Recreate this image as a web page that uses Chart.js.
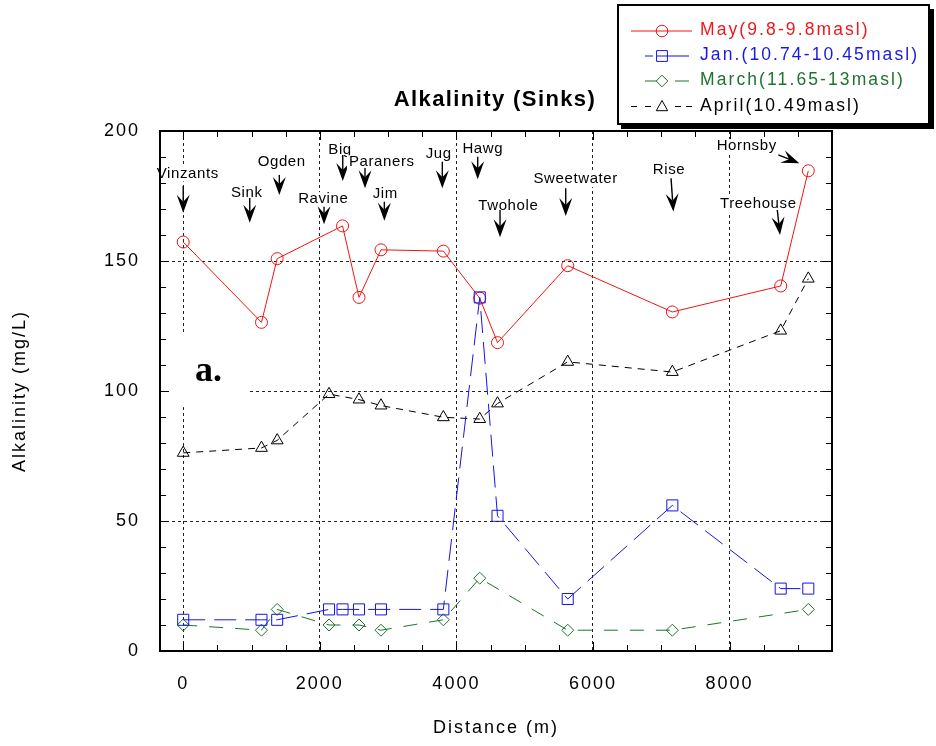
<!DOCTYPE html>
<html><head><meta charset="utf-8">
<script src="https://cdn.jsdelivr.net/npm/chart.js@4.4.1/dist/chart.umd.min.js"></script>
<style>html,body{margin:0;padding:0;background:#fff;}canvas{display:block;}</style>
</head><body>
<canvas id="c" width="936" height="746"></canvas>
<script>
// ---- data ----
const stations = ['Vinzants','Sink','Ogden','Ravine','Big','Paraners','Jim','Jug','Hawg','Twohole','Sweetwater','Rise','Treehouse','Hornsby'];
const distance = [0, 1146, 1376, 2135, 2333, 2574, 2896, 3809, 4342, 4602, 5630, 7162, 8749, 9153];
const mayValues   = [157.3, 126.4, 150.9, null, 163.5, 136.0, 154.3, 153.8, 135.7, 118.6, 148.2, 130.4, 140.4, 184.7];
const janValues   = [12, 12, 12, 16, 16, 16, 16, 16, 136, 52, 20, 56, 24, 24];
const marchValues = [10, 8, 16, 10, null, 10, 8, 12, 28, null, 8, 8, null, 16];
const aprilValues = [76.2, 78.1, 81.0, 98.8, null, 96.7, 94.4, 89.9, 89.2, 95.2, 111.2, 107.3, 123.2, 143.2];
const xTicks = [0, 2000, 4000, 6000, 8000];
const yTicks = [0, 50, 100, 150, 200];
const seriesNames = ['May(9.8-9.8masl)', 'Jan.(10.74-10.45masl)', 'March(11.65-13masl)', 'April(10.49masl)'];
const chartTitle = 'Alkalinity (Sinks)';
const xTitle = 'Distance (m)';
const yTitle = 'Alkalinity (mg/L)';

const RED = 'rgb(240,20,20)', BLUE = 'rgb(20,20,230)', GREEN = 'rgb(30,115,45)', BLACK = '#000';
const FONT = '"Liberation Sans", Arial, Helvetica, sans-serif';

function toXY(vals) {
  const out = [];
  vals.forEach((v, i) => { if (v !== null) out.push({x: distance[i], y: v}); });
  return out;
}

// annotation labels placed in data units (x: m, y: mg/L)
const annotations = [
  {t:'Vinzants',   tx:66,   ty:183.7, ax:0,    ay:178.8, bx:0,    by:168.6},
  {t:'Sink',       tx:930,  ty:176.4, ax:974,  ay:174.2, bx:974,  by:164.7},
  {t:'Ogden',      tx:1442, ty:188.0, ax:1407, ay:183.1, bx:1407, by:175.4},
  {t:'Ravine',     tx:2051, ty:173.8, ax:2062, ay:170.9, bx:2062, by:164.1},
  {t:'Big',        tx:2296, ty:192.7, ax:2336, ay:190.8, bx:2336, by:180.8},
  {t:'Paraners',   tx:2907, ty:188.0, ax:2662, ay:185.8, bx:2662, by:178.0},
  {t:'Jim',        tx:2959, ty:176.0, ax:2945, ay:172.8, bx:2945, by:165.5},
  {t:'Jug',        tx:3741, ty:191.4, ax:3794, ay:188.2, bx:3794, by:178.0},
  {t:'Hawg',       tx:4386, ty:193.1, ax:4312, ay:190.1, bx:4312, by:181.4},
  {t:'Twohole',    tx:4760, ty:171.2, ax:4639, ay:169.6, bx:4639, by:159.1},
  {t:'Sweetwater', tx:5747, ty:181.5, ax:5601, ay:178.0, bx:5601, by:167.3},
  {t:'Rise',       tx:7113, ty:185.0, ax:7143, ay:181.8, bx:7177, by:169.0},
  {t:'Treehouse',  tx:8421, ty:171.9, ax:8699, ay:169.6, bx:8739, by:160.0},
  {t:'Hornsby',    tx:8251, ty:194.2, ax:8714, ay:190.8, bx:9021, by:187.6}
];

function arrow(ctx, x1, y1, x2, y2) {
  const dx = x2 - x1, dy = y2 - y1, L = Math.hypot(dx, dy);
  const ux = dx / L, uy = dy / L, px = -uy, py = ux;
  const hl = 18, hw = 6.5, notch = 7;
  const bx = x2 - ux * hl, by = y2 - uy * hl;
  const nx = x2 - ux * (hl - notch), ny = y2 - uy * (hl - notch);
  ctx.beginPath(); ctx.moveTo(x1, y1); ctx.lineTo(nx, ny);
  ctx.lineWidth = 1.4; ctx.strokeStyle = '#000'; ctx.stroke();
  ctx.beginPath();
  ctx.moveTo(x2, y2);
  ctx.lineTo(bx + px * hw, by + py * hw);
  ctx.lineTo(nx, ny);
  ctx.lineTo(bx - px * hw, by - py * hw);
  ctx.closePath(); ctx.fillStyle = '#000'; ctx.fill();
}

function drawMarker(ctx, style, x, y, r, color) {
  ctx.save(); ctx.strokeStyle = color; ctx.lineWidth = 1; ctx.setLineDash([]);
  ctx.beginPath();
  if (style === 'circle') ctx.arc(x, y, r, 0, Math.PI * 2);
  else if (style === 'rect') ctx.rect(x - r, y - r, 2 * r, 2 * r);
  else if (style === 'diamond') { ctx.moveTo(x, y - r); ctx.lineTo(x + r, y); ctx.lineTo(x, y + r); ctx.lineTo(x - r, y); ctx.closePath(); }
  else if (style === 'triangle') { ctx.moveTo(x, y - r); ctx.lineTo(x + r * 0.95, y + r * 0.7); ctx.lineTo(x - r * 0.95, y + r * 0.7); ctx.closePath(); }
  ctx.stroke(); ctx.restore();
}

const customPlugin = {
  id: 'custom',
  beforeDraw(chart) { chart.ctx.letterSpacing = '2px'; },
  beforeDatasetsDraw(chart) {
    const {ctx, chartArea: a, scales: {x, y}} = chart;
    ctx.save();
    ctx.letterSpacing = '0px';
    // white patch behind "a." label
    ctx.fillStyle = '#fff';
    const bx1 = a.left + 1, bx2 = x.getPixelForValue(935);
    const by1 = y.getPixelForValue(121.5), by2 = y.getPixelForValue(93.8);
    ctx.fillRect(bx1, by1, bx2 - bx1, by2 - by1);
    ctx.fillStyle = '#000';
    ctx.font = 'bold 36px "Liberation Serif", "Times New Roman", serif';
    ctx.textAlign = 'left'; ctx.textBaseline = 'alphabetic';
    ctx.fillText('a.', x.getPixelForValue(171), y.getPixelForValue(103.7));

    // inward tick marks on all four sides
    ctx.strokeStyle = '#000'; ctx.lineWidth = 1; ctx.setLineDash([]);
    ctx.beginPath();
    for (let v = 0; v <= x.max; v += 500) {
      const p = Math.round(x.getPixelForValue(v)) + 0.5;
      if (p <= a.left + 1 || p >= a.right - 1) continue;
      const len = (v % 2000 === 0) ? 9 : 6;
      ctx.moveTo(p, a.bottom); ctx.lineTo(p, a.bottom - len);
      ctx.moveTo(p, a.top); ctx.lineTo(p, a.top + len);
    }
    for (let v = 10; v < y.max; v += 10) {
      const p = Math.round(y.getPixelForValue(v)) + 0.5;
      const len = (v % 50 === 0) ? 9 : 6;
      ctx.moveTo(a.left, p); ctx.lineTo(a.left + len, p);
      ctx.moveTo(a.right, p); ctx.lineTo(a.right - len, p);
    }
    ctx.stroke();

    // station labels with arrows
    ctx.font = '15px ' + FONT;
    ctx.letterSpacing = '0.6px';
    ctx.textAlign = 'center'; ctx.textBaseline = 'middle';
    annotations.forEach(an => {
      const tx = x.getPixelForValue(an.tx), ty = y.getPixelForValue(an.ty);
      const w = ctx.measureText(an.t).width;
      ctx.fillStyle = '#fff';
      ctx.fillRect(tx - w / 2 - 2, ty - 7, w + 4, 15);
      ctx.fillStyle = '#000';
      ctx.fillText(an.t, tx, ty);
      arrow(ctx, x.getPixelForValue(an.ax), y.getPixelForValue(an.ay), x.getPixelForValue(an.bx), y.getPixelForValue(an.by));
    });
    ctx.restore();
  },
  afterDatasetsDraw(chart) {
    const {ctx, chartArea: a} = chart;
    ctx.save();
    ctx.strokeStyle = '#000'; ctx.lineWidth = 2; ctx.setLineDash([]);
    ctx.strokeRect(a.left, a.top, a.right - a.left, a.bottom - a.top);
    ctx.restore();
  },
  afterDraw(chart) {
    const {ctx} = chart;
    ctx.save();
    // title
    ctx.letterSpacing = '1.4px';
    ctx.font = 'bold 22px ' + FONT;
    ctx.fillStyle = '#000'; ctx.textAlign = 'center'; ctx.textBaseline = 'alphabetic';
    ctx.fillText(chartTitle, 495, 106);

    // legend box with shadow
    ctx.letterSpacing = '0px';
    ctx.fillStyle = '#000'; ctx.fillRect(621, 9, 313, 120);
    ctx.fillStyle = '#fff'; ctx.fillRect(617, 4, 313, 121);
    ctx.strokeStyle = '#000'; ctx.lineWidth = 2; ctx.strokeRect(618, 5, 311, 119);

    const rows = [
      {name: seriesNames[0], color: RED,   text: 'rgb(235,25,25)', y: 30.5, segs: [[631, 692]], marker: 'circle', r: 5.8},
      {name: seriesNames[1], color: BLUE,  text: 'rgb(25,25,225)', y: 55.5, segs: [[645, 653], [657, 689]], marker: 'rect', r: 5.4},
      {name: seriesNames[2], color: GREEN, text: 'rgb(30,115,45)', y: 80.5, segs: [[645, 657], [675, 689]], marker: 'diamond', r: 5.8},
      {name: seriesNames[3], color: BLACK, text: '#000',          y: 106,  segs: [[631, 637], [645, 651], [675, 681], [686, 692]], marker: 'triangle', r: 6}
    ];
    rows.forEach(rw => {
      ctx.strokeStyle = rw.color; ctx.lineWidth = 1;
      ctx.beginPath();
      rw.segs.forEach(s => { ctx.moveTo(s[0], rw.y + 0.5); ctx.lineTo(s[1], rw.y + 0.5); });
      ctx.stroke();
      drawMarker(ctx, rw.marker, 662, rw.y + 0.5, rw.r, rw.color);
      ctx.letterSpacing = '2.1px';
      ctx.font = '17.5px ' + FONT;
      ctx.fillStyle = rw.text; ctx.textAlign = 'left'; ctx.textBaseline = 'middle';
      ctx.fillText(rw.name, 700, rw.y);
      ctx.letterSpacing = '0px';
    });
    ctx.restore();
  }
};

const pointBase = {pointBackgroundColor: 'rgba(0,0,0,0)', pointBorderWidth: 1, borderWidth: 1, tension: 0, fill: false, spanGaps: true};

new Chart(document.getElementById('c').getContext('2d'), {
  type: 'line',
  data: {
    datasets: [
      Object.assign({label: seriesNames[1], data: toXY(janValues), borderColor: BLUE, pointBorderColor: BLUE,
        borderDash: [22, 9], pointStyle: 'rect', pointRadius: 7.8, order: 0}, pointBase),
      Object.assign({label: seriesNames[0], data: toXY(mayValues), borderColor: RED, pointBorderColor: RED,
        pointStyle: 'circle', pointRadius: 6, order: 1}, pointBase),
      Object.assign({label: seriesNames[3], data: toXY(aprilValues), borderColor: BLACK, pointBorderColor: BLACK,
        borderDash: [7, 6], pointStyle: 'triangle', pointRadius: 6.8, order: 2}, pointBase),
      Object.assign({label: seriesNames[2], data: toXY(marchValues), borderColor: GREEN, pointBorderColor: GREEN,
        borderDash: [14, 12], pointStyle: 'rectRot', pointRadius: 6, order: 3}, pointBase)
    ]
  },
  options: {
    responsive: false,
    animation: false,
    devicePixelRatio: 1,
    layout: {padding: {left: 0, right: 104, top: 131, bottom: 0}},
    plugins: {legend: {display: false}, title: {display: false}, tooltip: {enabled: false}},
    elements: {point: {hitRadius: 0, hoverRadius: 0}},
    scales: {
      x: {
        type: 'linear', min: -340, max: 9500,
        afterBuildTicks: s => { s.ticks = xTicks.map(v => ({value: v})); },
        afterFit: s => { s.height = 95; },
        grid: {color: '#222', lineWidth: 1, drawTicks: false},
        border: {display: false, dash: [3, 3]},
        ticks: {padding: 22, color: '#000', font: {family: FONT, size: 18}, maxRotation: 0, autoSkip: false, callback: v => String(v)},
        title: {display: true, text: xTitle, color: '#000', font: {family: FONT, size: 18}, padding: {top: 0, bottom: 7}}
      },
      y: {
        type: 'linear', min: 0, max: 200,
        afterBuildTicks: s => { s.ticks = yTicks.map(v => ({value: v})); },
        afterFit: s => { s.width = 160; },
        grid: {color: '#222', lineWidth: 1, drawTicks: false},
        border: {display: false, dash: [3, 3]},
        ticks: {padding: 20, color: '#000', font: {family: FONT, size: 18}, callback: v => String(v)},
        title: {display: true, text: yTitle, color: '#000', font: {family: FONT, size: 18}, padding: {top: 9, bottom: 0}}
      }
    }
  },
  plugins: [customPlugin]
});
</script>
</body></html>
